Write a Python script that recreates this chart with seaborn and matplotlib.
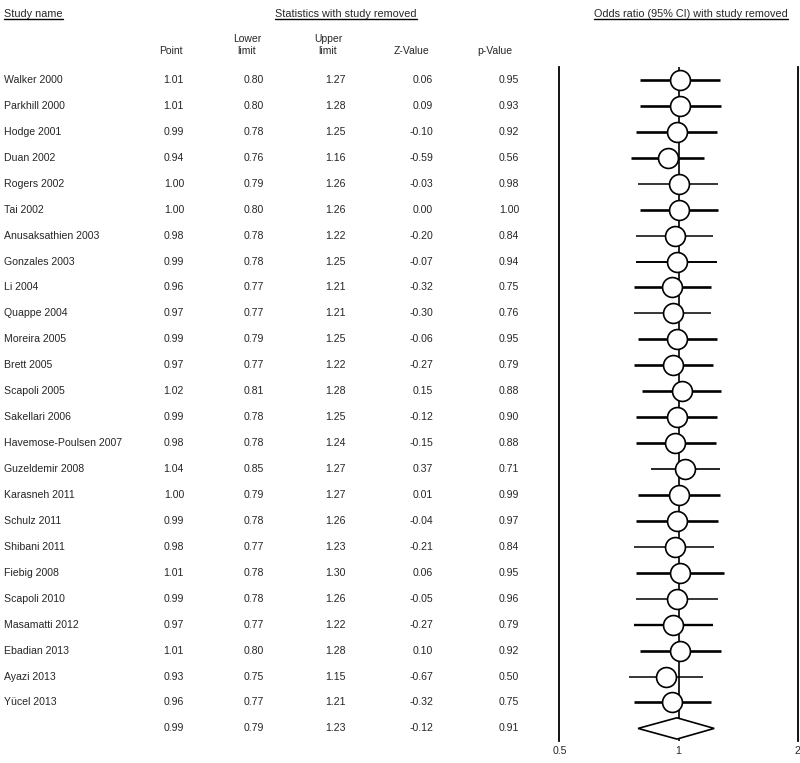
import matplotlib
matplotlib.use('Agg')
import matplotlib.pyplot as plt
from matplotlib.lines import Line2D
from matplotlib.ticker import NullLocator
import numpy as np
import seaborn as sns

# data (one study removed at a time)
studies = ['Walker 2000', 'Parkhill 2000', 'Hodge 2001', 'Duan 2002', 'Rogers 2002',
           'Tai 2002', 'Anusaksathien 2003', 'Gonzales 2003', 'Li 2004', 'Quappe 2004',
           'Moreira 2005', 'Brett 2005', 'Scapoli 2005', 'Sakellari 2006',
           'Havemose-Poulsen 2007', 'Guzeldemir 2008', 'Karasneh 2011', 'Schulz 2011',
           'Shibani 2011', 'Fiebig 2008', 'Scapoli 2010', 'Masamatti 2012',
           'Ebadian 2013', 'Ayazi 2013', 'Yücel 2013']
point = [1.01, 1.01, 0.99, 0.94, 1.00, 1.00, 0.98, 0.99, 0.96, 0.97, 0.99, 0.97, 1.02,
         0.99, 0.98, 1.04, 1.00, 0.99, 0.98, 1.01, 0.99, 0.97, 1.01, 0.93, 0.96]
lower = [0.80, 0.80, 0.78, 0.76, 0.79, 0.80, 0.78, 0.78, 0.77, 0.77, 0.79, 0.77, 0.81,
         0.78, 0.78, 0.85, 0.79, 0.78, 0.77, 0.78, 0.78, 0.77, 0.80, 0.75, 0.77]
upper = [1.27, 1.28, 1.25, 1.16, 1.26, 1.26, 1.22, 1.25, 1.21, 1.21, 1.25, 1.22, 1.28,
         1.25, 1.24, 1.27, 1.27, 1.26, 1.23, 1.30, 1.26, 1.22, 1.28, 1.15, 1.21]
z_value = [0.06, 0.09, -0.10, -0.59, -0.03, 0.00, -0.20, -0.07, -0.32, -0.30, -0.06, -0.27,
           0.15, -0.12, -0.15, 0.37, 0.01, -0.04, -0.21, 0.06, -0.05, -0.27, 0.10, -0.67, -0.32]
p_value = [0.95, 0.93, 0.92, 0.56, 0.98, 1.00, 0.84, 0.94, 0.75, 0.76, 0.95, 0.79, 0.88,
           0.90, 0.88, 0.71, 0.99, 0.97, 0.84, 0.95, 0.96, 0.79, 0.92, 0.50, 0.75]
overall = [0.99, 0.79, 1.23, -0.12, 0.91]   # point, lower, upper, z, p
x_ticks = [0.5, 1, 2]
x_tick_labels = ['0.5', '1', '2']

# line weight of each CI bar (thicker = heavier study)
ci_widths = [1.9, 1.9, 1.9, 1.9, 1.1, 1.9, 1.1, 1.4, 1.9, 1.1, 1.9, 1.9, 1.9,
             1.9, 1.9, 1.2, 1.9, 1.9, 1.1, 1.9, 1.1, 1.7, 1.9, 1.1, 1.9]

sns.set_style('white')
plt.rcParams['font.family'] = ['Liberation Sans', 'DejaVu Sans']

W, H = 800, 763
fig = plt.figure(figsize=(W / 100, H / 100), dpi=100)

def fx(x):
    return x / W

def fy(y):
    return 1 - y / H

rows = np.arange(len(studies))
sum_row = len(studies)
ylim = (25.5, -0.5)
bottom, top = fy(741.4), fy(67)

# forest plot
ax = fig.add_axes([fx(559.4), bottom, fx(797.8) - fx(559.4), top - bottom])
ax.set_xscale('log')
ax.set_xlim(0.5, 2)
ax.set_ylim(*ylim)
ax.axvline(1, color='black', lw=1.2, zorder=1)
ax.hlines(rows, lower, upper, colors='black', linewidths=ci_widths, zorder=2)
sns.scatterplot(x=point, y=rows, ax=ax, s=205, color='white', edgecolor='black',
                linewidth=1.2, zorder=3, legend=False)
d = 0.41
ax.fill([overall[1], overall[0], overall[2], overall[0]],
        [sum_row, sum_row - d, sum_row, sum_row + d],
        facecolor='white', edgecolor='black', lw=1.2, zorder=3)
for side in ['top', 'bottom']:
    ax.spines[side].set_visible(False)
for side in ['left', 'right']:
    ax.spines[side].set_color('black')
    ax.spines[side].set_linewidth(1.3)
ax.set_xticks(x_ticks)
ax.set_xticklabels(x_tick_labels)
ax.xaxis.set_minor_locator(NullLocator())
ax.set_yticks([])
ax.tick_params(axis='x', length=0, pad=3, labelsize=7.6)
ax.set_xlabel('')
ax.set_ylabel('')

# table of statistics
tax = fig.add_axes([0, bottom, fx(559.4), top - bottom])
tax.set_xlim(0, 559.4)
tax.set_ylim(*ylim)
tax.axis('off')
col_x = [184, 264, 346, 433, 519]
fs = 7.6
for i, name in enumerate(studies):
    tax.text(4, i, name, ha='left', va='center', fontsize=fs)
    for cx, v in zip(col_x, [point[i], lower[i], upper[i], z_value[i], p_value[i]]):
        tax.text(cx, i, f'{v:.2f}', ha='right', va='center', fontsize=fs)
for cx, v in zip(col_x, overall):
    tax.text(cx, sum_row, f'{v:.2f}', ha='right', va='center', fontsize=fs)

# headers
hfs = 7.8
titles = [
    fig.text(fx(4), fy(14), 'Study name', ha='left', va='center', fontsize=hfs),
    fig.text(fx(346), fy(14), 'Statistics with study removed', ha='center', va='center',
             fontsize=hfs),
    fig.text(fx(691), fy(14), 'Odds ratio (95% CI) with study removed', ha='center',
             va='center', fontsize=hfs),
]
cfs = 7.5
col_heads = [(171, ['Point']), (247, ['Lower', 'limit']), (328, ['Upper', 'limit']),
             (412, ['Z-Value']), (495, ['p-Value'])]
for cx, lines in col_heads:
    if len(lines) == 2:
        fig.text(fx(cx), fy(39.5), lines[0], ha='center', va='center', fontsize=cfs)
    fig.text(fx(cx), fy(51), lines[-1], ha='center', va='center', fontsize=cfs)

fig.canvas.draw()
renderer = fig.canvas.get_renderer()
for t in titles:
    bb = t.get_window_extent(renderer)
    yline = (bb.y0 + 0.5) / fig.bbox.height
    fig.add_artist(Line2D([bb.x0 / fig.bbox.width, bb.x1 / fig.bbox.width], [yline, yline],
                          color='black', lw=1.0))

fig.savefig('out.png', dpi=100, facecolor='white')
